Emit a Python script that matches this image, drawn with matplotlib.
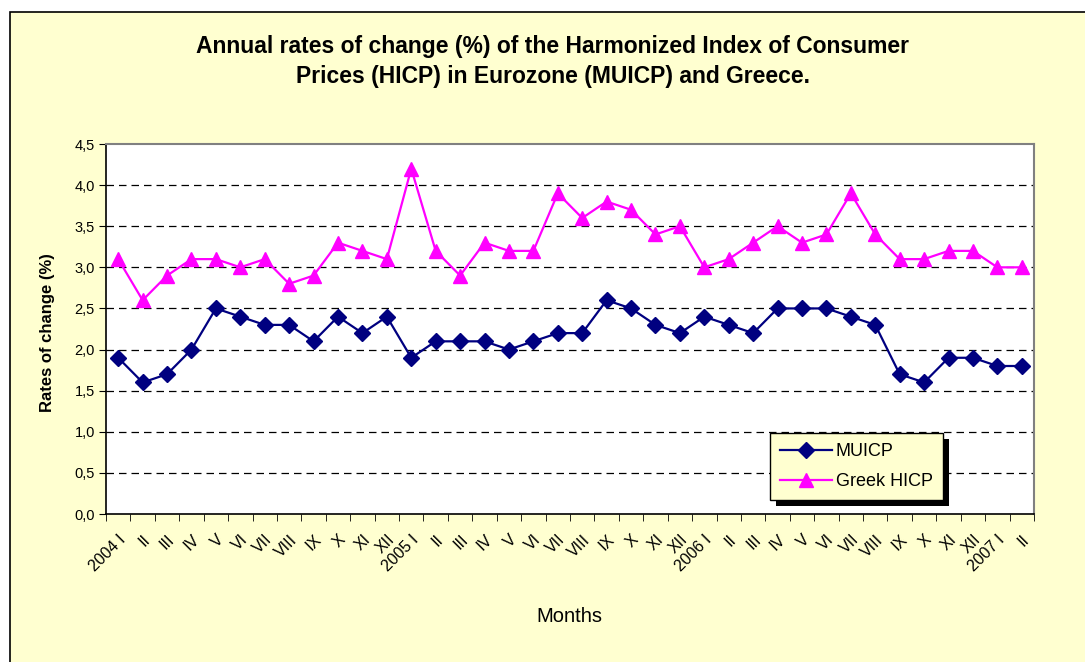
import numpy as np
import matplotlib
matplotlib.use("Agg")
import matplotlib.pyplot as plt
from matplotlib.patches import Rectangle
from matplotlib.transforms import IdentityTransform

# ── dáta ──────────────────────────────────────────────────────────────────────
roman = ["I", "II", "III", "IV", "V", "VI", "VII", "VIII", "IX", "X", "XI", "XII"]
months = ([f"2004 {m}" if m == "I" else m for m in roman]
          + [f"2005 {m}" if m == "I" else m for m in roman]
          + [f"2006 {m}" if m == "I" else m for m in roman]
          + ["2007 I", "II"])

muicp = [1.9, 1.6, 1.7, 2.0, 2.5, 2.4, 2.3, 2.3, 2.1, 2.4, 2.2, 2.4,
         1.9, 2.1, 2.1, 2.1, 2.0, 2.1, 2.2, 2.2, 2.6, 2.5, 2.3, 2.2,
         2.4, 2.3, 2.2, 2.5, 2.5, 2.5, 2.4, 2.3, 1.7, 1.6, 1.9, 1.9,
         1.8, 1.8]
greek = [3.1, 2.6, 2.9, 3.1, 3.1, 3.0, 3.1, 2.8, 2.9, 3.3, 3.2, 3.1,
         4.2, 3.2, 2.9, 3.3, 3.2, 3.2, 3.9, 3.6, 3.8, 3.7, 3.4, 3.5,
         3.0, 3.1, 3.3, 3.5, 3.3, 3.4, 3.9, 3.4, 3.1, 3.1, 3.2, 3.2,
         3.0, 3.0]
y_ticks = [0.0, 0.5, 1.0, 1.5, 2.0, 2.5, 3.0, 3.5, 4.0, 4.5]

BG = "#FFFFD0"
NAVY = "#000080"
MAGENTA = "#FF00FF"

plt.rcParams["font.family"] = ["Liberation Sans", "DejaVu Sans"]

W, H = 1085, 662
fig = plt.figure(figsize=(W / 100, H / 100), dpi=100)
fig.patch.set_facecolor("white")

# žltý rámik grafu
fig.patches.append(Rectangle((10 / W, -0.01), 1 - 10 / W + 0.01, 1 - 12 / H + 0.01,
                             transform=fig.transFigure, facecolor=BG,
                             edgecolor="black", lw=1.2, zorder=-5))

ax = fig.add_axes([106 / W, 1 - 514 / H, (1034 - 106) / W, (514 - 144) / H])
ax.set_facecolor("white")

x = np.arange(len(months))
ax.plot(x, muicp, color=NAVY, lw=1.6, marker="D", ms=8, label="MUICP", zorder=3)
ax.plot(x, greek, color=MAGENTA, lw=1.6, marker="^", ms=10, label="Greek HICP", zorder=3)

ax.set_xlim(-0.5, len(months) - 0.5)
ax.set_ylim(0, 4.5)
ax.set_yticks(y_ticks)
ax.set_yticklabels([f"{v:.1f}".replace(".", ",") for v in y_ticks], fontsize=10.5)
for v in y_ticks[1:-1]:
    ax.axhline(v, color="black", lw=0.9, ls=(0, (6, 4)), zorder=1)

ax.set_xticks(x)
ax.set_xticklabels(months, rotation=45, ha="right", rotation_mode="anchor", fontsize=11.5)
ax.tick_params(axis="x", which="major", length=0, pad=13)
ax.set_xticks(np.arange(len(months) + 1) - 0.5, minor=True)
ax.tick_params(axis="x", which="minor", length=5, direction="out", color="black")
ax.tick_params(axis="y", length=5, direction="out", color="black", pad=3)

for s in ["left", "bottom"]:
    ax.spines[s].set_color("black")
    ax.spines[s].set_linewidth(1.2)
for s in ["top", "right"]:
    ax.spines[s].set_color("#808080")
    ax.spines[s].set_linewidth(1.5)

ax.set_ylabel("Rates of change (%)", fontsize=12, fontweight="bold")
ax.yaxis.set_label_coords((55 - 106) / 928, (514 - 333) / 370)
fig.text(569 / W, 1 - 617 / H, "Months", fontsize=14.5, ha="center", va="center")

fig.text(553 / W, 1 - 46 / H, "Annual rates of change (%) of the Harmonized Index of Consumer",
         fontsize=16.5, fontweight="bold", ha="center", va="center")
fig.text(553 / W, 1 - 76 / H, "Prices (HICP) in Eurozone (MUICP) and Greece.",
         fontsize=16.5, fontweight="bold", ha="center", va="center")

leg = ax.legend(loc="upper left", bbox_to_anchor=((770 - 106) / 928, (514 - 433) / 370),
                borderaxespad=0, fontsize=13, frameon=True, fancybox=False,
                facecolor=BG, edgecolor="black", framealpha=1, handlelength=2.9,
                labelspacing=0.75, borderpad=0.55, handletextpad=0.2)
leg.get_frame().set_linewidth(1.0)
leg.set_zorder(5)

# tieň legendy
fig.canvas.draw()
bb = leg.get_window_extent()
shadow = Rectangle((bb.x0 + 6, bb.y0 - 6), bb.width, bb.height,
                   transform=IdentityTransform(), facecolor="black",
                   edgecolor="none", zorder=4, clip_on=False)
ax.add_artist(shadow)

fig.savefig("out.png", dpi=100, facecolor=fig.get_facecolor())
